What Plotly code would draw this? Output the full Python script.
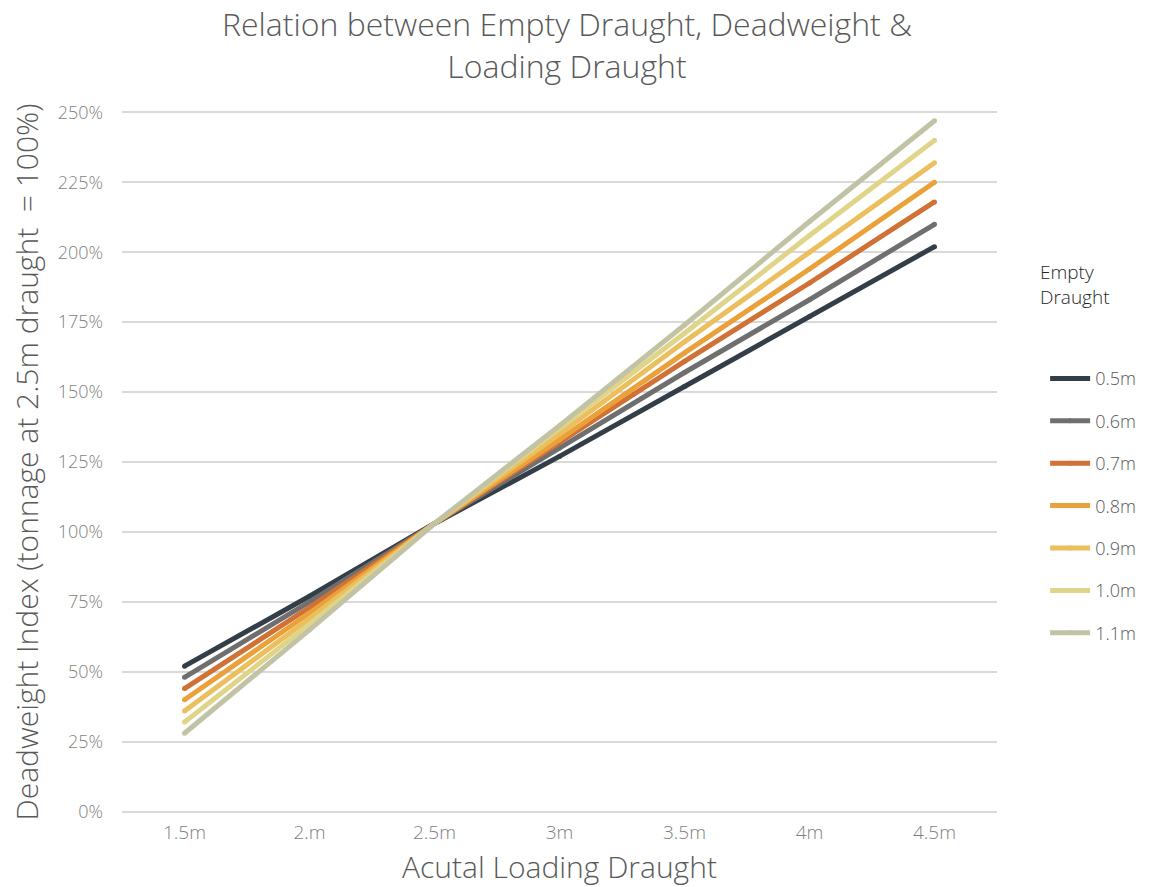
import plotly.graph_objects as go

categories = ["1.5m", "2.m", "2.5m", "3m", "3.5m", "4m", "4.5m"]
series_names = ["0.5m", "0.6m", "0.7m", "0.8m", "0.9m", "1.0m", "1.1m"]
v_05 = [52, 77, 103, 127, 152, 177, 202]
v_06 = [48, 75, 103, 130, 157, 183, 210]
v_07 = [44, 73, 103, 132, 161, 189, 218]
v_08 = [40, 71, 103, 133, 164, 194, 225]
v_09 = [36, 69, 103, 135, 168, 200, 232]
v_10 = [32, 67, 103, 137, 171, 206, 240]
v_11 = [28, 65, 103, 138, 174, 211, 247]
series_values = [v_05, v_06, v_07, v_08, v_09, v_10, v_11]
colors = ["#343e48", "#6f6f6f", "#d07135", "#eba13a", "#ebbf5d", "#dfd488", "#c2c3a5"]
y_ticks = [0, 25, 50, 75, 100, 125, 150, 175, 200, 225, 250]
y_tick_labels = [f"{v}%" for v in y_ticks]

FONT = "Open Sans"

fig = go.Figure()
for name, vals, col in zip(series_names, series_values, colors):
    fig.add_trace(go.Scatter(
        x=categories, y=vals, name=name, mode="lines+markers",
        line=dict(color=col, width=5),
        marker=dict(color=col, size=5),
        legendgroup=name,
    ))

fig.update_layout(
    width=1150, height=887,
    paper_bgcolor="white", plot_bgcolor="white",
    margin=dict(l=122, r=153, t=111, b=74, autoexpand=False),
    font=dict(family=FONT, color="#7f7f7f", weight=300),
    xaxis=dict(
        type="category", range=[-0.5, 6.5], automargin=False,
        showgrid=False, zeroline=False, showline=False,
        tickfont=dict(size=19, color="#7f7f7f"),
        ticklabelstandoff=6,
        title=dict(text="Acutal Loading Draught", standoff=16,
                   font=dict(size=30, color="#595959")),
    ),
    yaxis=dict(
        range=[-0.5, 250.5], tickvals=y_ticks, ticktext=y_tick_labels, automargin=False,
        showgrid=True, gridcolor="#d9d9d9", gridwidth=1.5,
        zeroline=False, showline=False,
        tickfont=dict(size=18, color="#7f7f7f"),
        ticklabelstandoff=18,
        title=dict(text="Deadweight Index (tonnage at 2.5m draught  = 100%)", standoff=10,
                   font=dict(size=30, color="#595959")),
    ),
    legend=dict(
        x=1.055, xanchor="left", y=0.645, yanchor="top",
        font=dict(size=18, color="#595959"),
        traceorder="grouped", tracegroupgap=16,
        itemwidth=40,
    ),
    annotations=[
        dict(
            text="Relation between Empty Draught, Deadweight &amp;<br>Loading Draught",
            xref="paper", yref="paper", x=0.5086, xanchor="center",
            y=1.032, yanchor="bottom", showarrow=False, align="center",
            font=dict(family=FONT, size=32, color="#595959", weight=300),
        ),
        dict(
            text="Empty<br>Draught", xref="paper", yref="paper",
            x=1.047, xanchor="left", y=0.792, yanchor="top",
            showarrow=False, align="left",
            font=dict(family=FONT, size=19, color="#262626", weight=300),
        ),
    ],
)

fig.write_html("out.html")
